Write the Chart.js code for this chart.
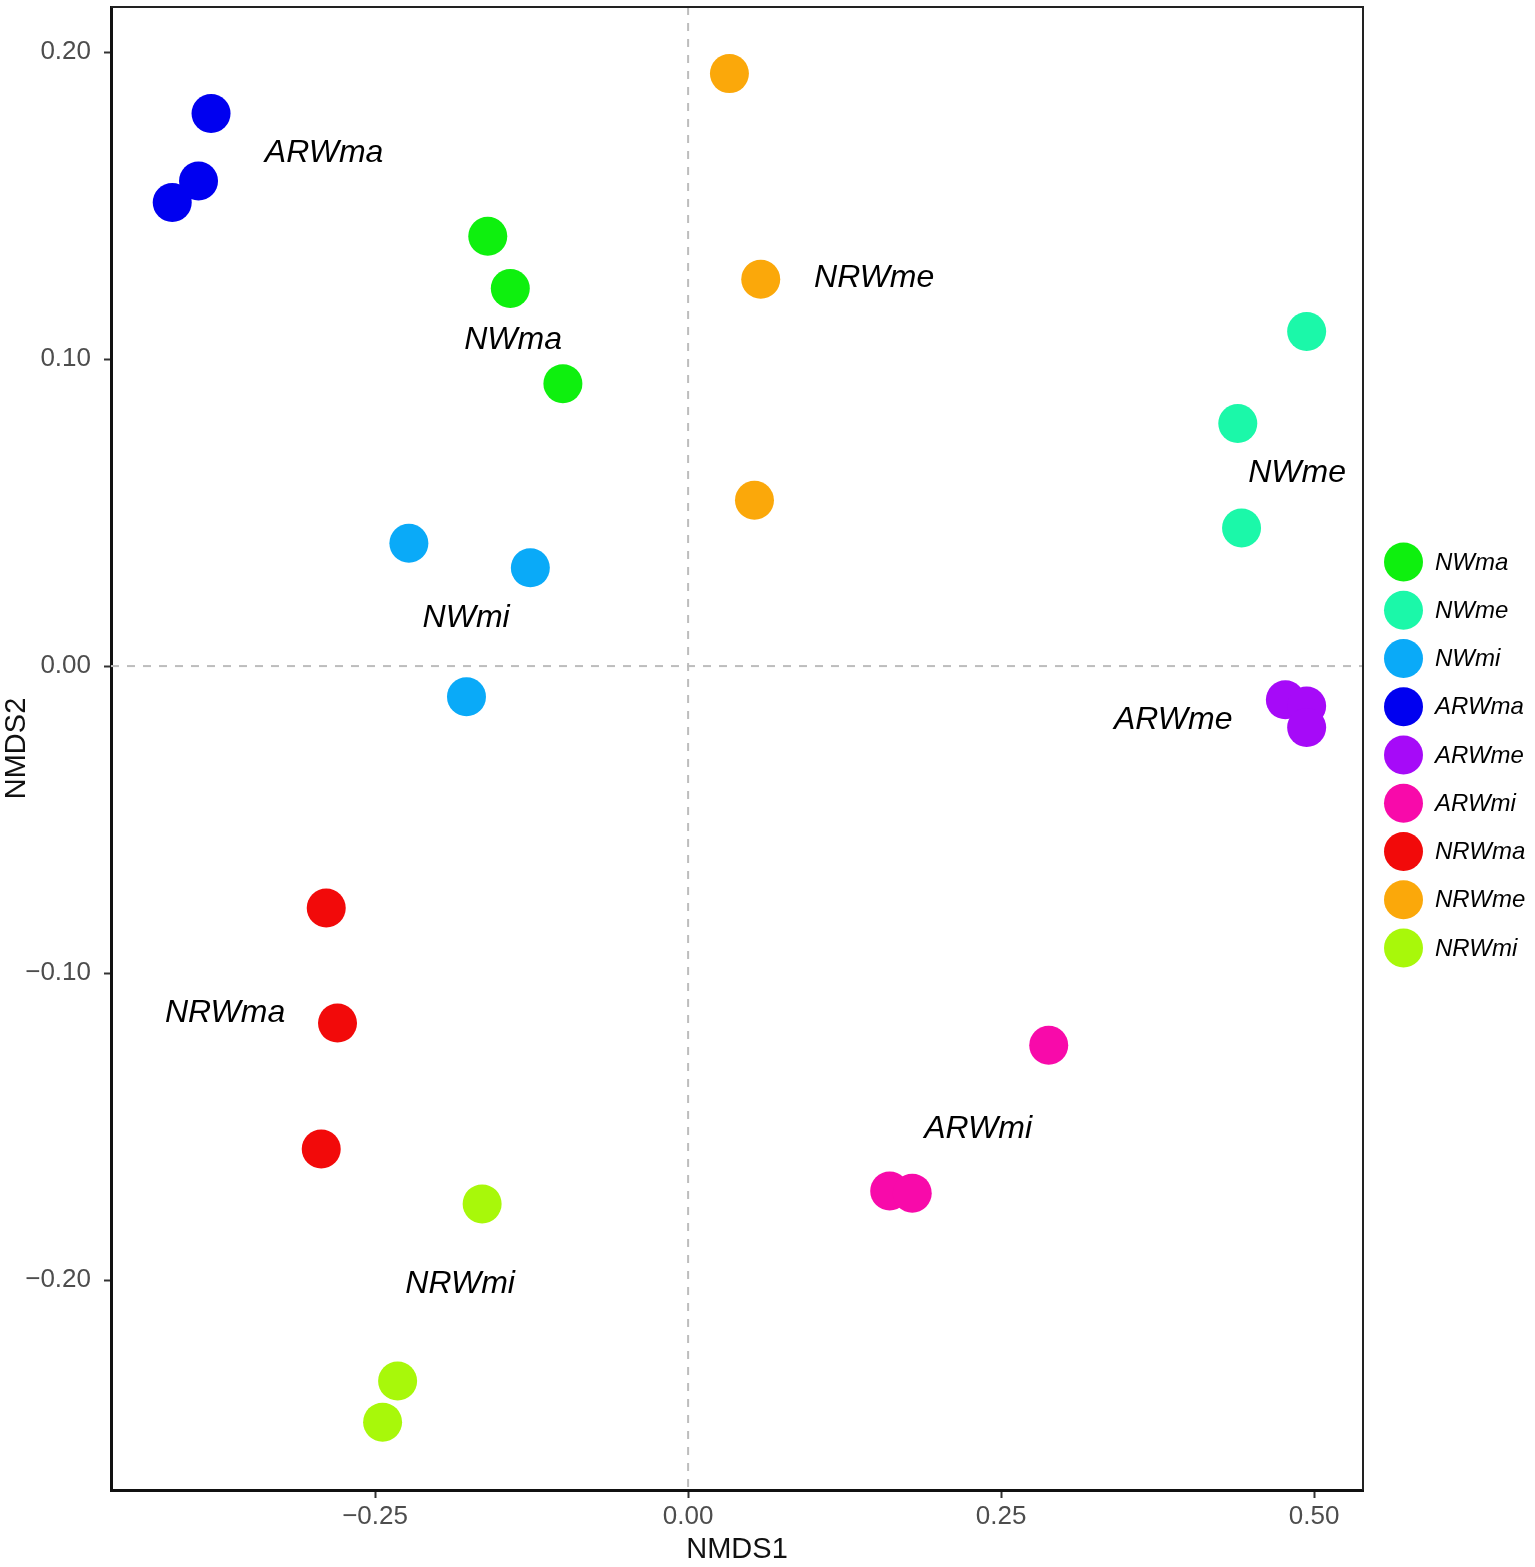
<!DOCTYPE html>
<html>
<head>
<meta charset="utf-8">
<script src="https://cdn.jsdelivr.net/npm/chart.js@4/dist/chart.umd.min.js"></script>
<style>
html,body{margin:0;padding:0;background:#fff;}
#wrap{width:1535px;height:1567px;position:relative;}
</style>
</head>
<body>
<div id="wrap"><canvas id="c"></canvas></div>
<script>
// ---- data ----
const groups = ["NWma","NWme","NWmi","ARWma","ARWme","ARWmi","NRWma","NRWme","NRWmi"];
const colors = ["#0EF00E","#1BF8A9","#0AAAF8","#0000F0","#A60AF8","#F80AAA","#F20A0A","#FBA80A","#A8F80A"];
const NWma  = [[-0.160,0.140],[-0.142,0.123],[-0.100,0.092]];
const NWme  = [[0.494,0.109],[0.439,0.079],[0.442,0.045]];
const NWmi  = [[-0.223,0.040],[-0.126,0.032],[-0.177,-0.010]];
const ARWma = [[-0.381,0.180],[-0.391,0.158],[-0.412,0.151]];
const ARWme = [[0.477,-0.011],[0.494,-0.013],[0.494,-0.020]];
const ARWmi = [[0.288,-0.1235],[0.161,-0.171],[0.179,-0.1717]];
const NRWma = [[-0.289,-0.0788],[-0.280,-0.1163],[-0.293,-0.1573]];
const NRWme = [[0.033,0.193],[0.058,0.126],[0.053,0.054]];
const NRWmi = [[-0.1645,-0.1752],[-0.232,-0.2329],[-0.244,-0.2463]];
const seriesValues = [NWma,NWme,NWmi,ARWma,ARWme,ARWmi,NRWma,NRWme,NRWmi];
// group label positions (data coordinates)
const labelText = ["ARWma","NWma","NRWme","NWme","NWmi","ARWme","NRWma","ARWmi","NRWmi"];
const labelX    = [-0.2907,-0.1398,0.1486,0.4864,-0.1773,0.3874,-0.3698,0.2316,-0.1821];
const labelY    = [0.1671,0.1062,0.1264,0.0629,0.0156,-0.0176,-0.1130,-0.1508,-0.2013];
const xTickStep = 0.25, yTickStep = 0.10;
const xMin = -0.4609, xMax = 0.539, yMin = -0.2684, yMax = 0.2147;
const xTitle = "NMDS1", yTitle = "NMDS2";

const FONT = "'Liberation Sans', Arial, Helvetica, sans-serif";
const fmt = v => { if (Math.abs(v) < 1e-9) v = 0; const s = v.toFixed(2); return s.replace('-', '\u2212'); };

const datasets = groups.map((g,i) => ({
  label: g,
  data: seriesValues[i].map(p => ({x:p[0], y:p[1]})),
  backgroundColor: colors[i],
  borderColor: colors[i],
  borderWidth: 0,
  pointRadius: 19.5,
  pointHoverRadius: 19.5
}));

const decor = {
  id: 'decor',
  beforeDatasetsDraw(chart) {
    const {ctx, chartArea:a, scales:{x,y}} = chart;
    ctx.save();
    ctx.strokeStyle = '#bdbdbd';
    ctx.lineWidth = 2;
    ctx.setLineDash([8,8]);
    const px = x.getPixelForValue(0), py = y.getPixelForValue(0);
    ctx.beginPath(); ctx.moveTo(px, a.top); ctx.lineTo(px, a.bottom); ctx.stroke();
    ctx.beginPath(); ctx.moveTo(a.left, py); ctx.lineTo(a.right, py); ctx.stroke();
    ctx.restore();
  },
  afterDatasetsDraw(chart) {
    const {ctx, chartArea:a, scales:{x,y}} = chart;
    ctx.save();
    // top and right border
    ctx.strokeStyle = '#222';
    ctx.lineWidth = 2;
    ctx.beginPath();
    ctx.moveTo(a.left, a.top); ctx.lineTo(a.right, a.top); ctx.lineTo(a.right, a.bottom);
    ctx.stroke();
    // group labels
    ctx.fillStyle = '#000';
    ctx.font = "italic 32px " + FONT;
    ctx.textAlign = 'center';
    ctx.textBaseline = 'middle';
    labelText.forEach((t,i) => ctx.fillText(t, x.getPixelForValue(labelX[i]), y.getPixelForValue(labelY[i])));
    // legend
    ctx.font = "italic 24px " + FONT;
    ctx.textAlign = 'left';
    groups.forEach((g,i) => {
      const cy = 562 + i*48.25;
      ctx.fillStyle = colors[i];
      ctx.beginPath(); ctx.arc(1403.5, cy, 19.5, 0, Math.PI*2); ctx.fill();
      ctx.fillStyle = '#000';
      ctx.fillText(g, 1435, cy + 1);
    });
    ctx.restore();
  }
};

new Chart(document.getElementById('c'), {
  type: 'scatter',
  data: { datasets },
  options: {
    responsive: true,
    maintainAspectRatio: false,
    animation: false,
    layout: { autoPadding: false, padding: { top: 7, right: 172, left: 0, bottom: 0 } },
    plugins: { legend: { display: false }, tooltip: { enabled: false } },
    scales: {
      x: {
        type: 'linear', min: xMin, max: xMax,
        afterFit: s => { s.height = 77; s.paddingLeft = 0; s.paddingRight = 0; },
        ticks: { stepSize: xTickStep, includeBounds: false, callback: v => fmt(v),
                 color: '#4d4d4d', font: { family: FONT, size: 26 }, padding: 3, maxRotation: 0 },
        grid: { display: true, drawOnChartArea: false, drawTicks: true, tickLength: 8, tickColor: '#333', tickWidth: 2 },
        border: { display: true, color: '#111', width: 3 },
        title: { display: true, text: xTitle, color: '#111', font: { family: FONT, size: 29 }, padding: 0 }
      },
      y: {
        type: 'linear', min: yMin, max: yMax,
        afterFit: s => { s.width = 111; s.paddingTop = 0; s.paddingBottom = 0; },
        ticks: { stepSize: yTickStep, includeBounds: false, callback: v => fmt(v),
                 color: '#4d4d4d', font: { family: FONT, size: 26 }, padding: 13 },
        grid: { display: true, drawOnChartArea: false, drawTicks: true, tickLength: 7, tickColor: '#333', tickWidth: 2 },
        border: { display: true, color: '#111', width: 3 },
        title: { display: true, text: yTitle, color: '#111', font: { family: FONT, size: 29 }, padding: 0 }
      }
    }
  },
  plugins: [decor]
});
</script>
</body>
</html>
